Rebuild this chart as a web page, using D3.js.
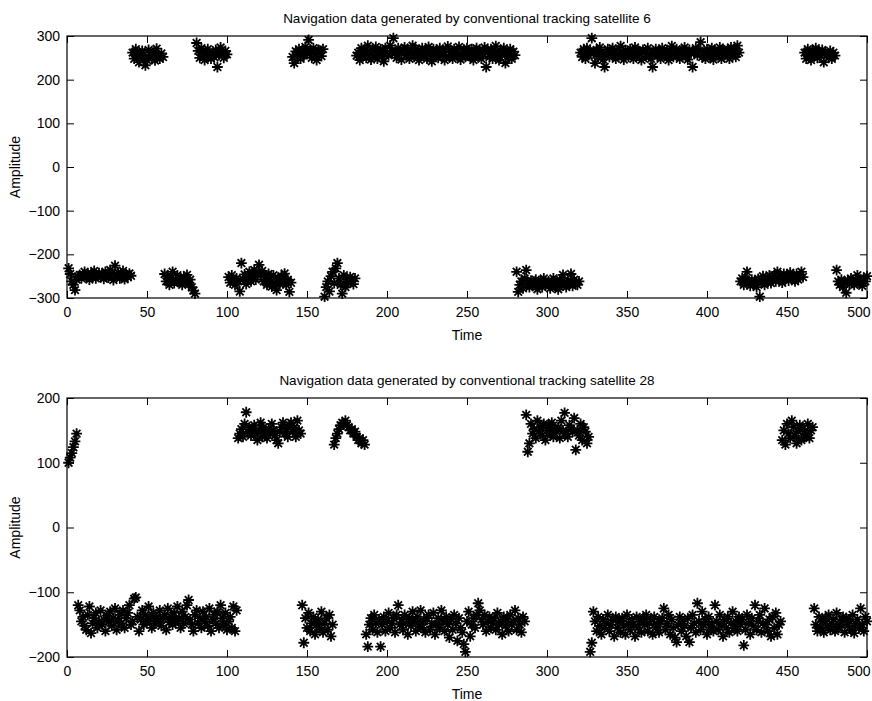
<!DOCTYPE html>
<html><head><meta charset="utf-8">
<script src="https://cdn.jsdelivr.net/npm/d3@7/dist/d3.min.js"></script>
<style>body{margin:0;background:#fff}svg{display:block}text{font-family:"Liberation Sans",Arial,Helvetica,sans-serif;fill:#000}</style>
</head><body><svg id="c" width="872" height="701"></svg>
<script>
const titles = ["Navigation data generated by conventional tracking satellite 6","Navigation data generated by conventional tracking satellite 28"];
const xLabel = "Time", yLabel = "Amplitude";
const xTicks = [0,50,100,150,200,250,300,350,400,450,500];
const yTicksSat6 = [-300,-200,-100,0,100,200,300];
const yTicksSat28 = [-200,-100,0,100,200];

const sat6 = [
-232,-245,-262,-270,-282,-258,-250,-247,-255,-248,
-240,-252,-246,-258,-244,-250,-238,-255,-249,-243,
-251,-245,-256,-240,-248,-253,-236,-244,-259,-226,
-247,-242,-255,-250,-238,-257,-246,-252,-244,-249,
262,248,270,255,240,258,266,251,233,245,
268,257,249,262,244,271,255,248,260,252,
-245,-262,-250,-270,-255,-240,-266,-258,-248,-263,
-256,-270,-252,-261,-247,-268,-258,-275,-283,-290,
284,266,250,272,258,245,263,270,255,248,
261,252,268,229,256,274,262,250,266,258,
-252,-265,-248,-260,-270,-255,-262,-285,-220,-258,
-246,-268,-255,-240,-262,-250,-236,-258,-244,-224,
-248,-238,-262,-252,-270,-245,-258,-274,-248,-266,
-282,-255,-268,-250,-262,-244,-270,-258,-286,-265,
252,238,265,258,270,248,262,255,275,260,
291,266,250,272,258,245,268,262,254,270,
-297,-275,-262,-285,-250,-240,-266,-232,-220,-255,
-270,-290,-248,-275,-258,-266,-252,-260,-268,-255,
255,262,245,272,258,268,250,278,260,246,
268,256,275,248,262,270,254,242,272,260,
256,278,266,295,260,250,272,262,246,268,
274,256,266,248,262,278,252,270,260,245,
262,272,254,266,248,275,260,242,270,256,
268,250,272,262,256,245,268,276,252,262,
248,270,262,254,275,246,260,268,252,272,
262,252,270,245,262,272,254,266,248,258,
274,229,262,252,270,248,262,277,256,245,
266,256,272,238,262,252,270,248,264,256,
-240,-286,-270,-262,-278,-255,-236,-268,-275,-260,
-272,-265,-258,-280,-268,-262,-275,-255,-270,-266,
-262,-278,-268,-255,-272,-264,-280,-258,-270,-247,
-266,-275,-260,-268,-245,-272,-258,-264,-270,-262,
262,252,270,248,272,256,266,295,260,238,
268,252,274,262,246,229,260,270,252,264,
272,256,248,266,262,277,254,246,268,260,
252,270,262,248,274,256,266,260,245,268,
262,252,272,256,248,229,262,270,254,266,
248,272,262,256,268,245,262,277,252,262,
270,256,248,266,262,274,254,246,268,260,
229,262,272,256,266,286,252,262,248,270,
262,252,272,246,266,256,262,274,248,268,
256,262,270,248,274,260,266,252,278,262,
-262,-255,-270,-258,-240,-265,-272,-258,-268,-262,
-275,-256,-297,-265,-250,-270,-258,-262,-248,-266,
-255,-248,-262,-240,-258,-250,-265,-245,-256,-248,
-260,-242,-255,-250,-262,-245,-258,-250,-240,-252,
262,248,270,255,245,266,258,272,250,262,
255,268,240,262,258,250,266,248,262,255,
-236,-262,-270,-258,-275,-265,-288,-260,-268,-255,
-262,-270,-258,-248,-265,-260,-272,-255,-262,-250
];

const sat28 = [
100,108,115,124,133,145,
-120,-128,-145,-138,-152,-158,-135,-122,-163,-148,
-140,-132,-155,-146,-128,-150,-142,-160,-136,-145,
-130,-152,-140,-125,-158,-145,-135,-148,-128,-155,
-140,-132,-120,-150,-145,-110,-108,-138,-160,-142,
-128,-150,-135,-145,-122,-140,-155,-132,-148,-138,
-145,-128,-152,-140,-135,-158,-125,-146,-138,-150,
-132,-145,-122,-140,-155,-130,-148,-138,-120,-112,
-142,-150,-160,-135,-128,-148,-140,-155,-130,-145,
-138,-152,-125,-160,-142,-135,-148,-130,-155,-120,
-140,-150,-132,-158,-145,-138,-155,-122,-160,-128,
138,145,152,140,160,178,148,155,142,150,
158,145,135,150,162,140,155,148,138,152,
145,160,150,142,135,130,148,155,162,145,
152,140,158,162,148,155,140,165,150,145,
-120,-178,-140,-155,-132,-160,-148,-138,-165,-150,
-142,-155,-130,-162,-148,-140,-158,-135,-168,-150,
128,138,145,152,158,162,160,165,158,155,
150,152,145,148,140,135,138,130,135,128,
-165,-184,-150,-140,-158,-135,-148,-162,-142,-184,
-150,-138,-160,-145,-132,-155,-148,-140,-162,-135,
-120,-150,-142,-158,-135,-148,-165,-140,-152,-130,
-145,-160,-138,-150,-128,-155,-145,-162,-140,-135,
-158,-148,-132,-165,-150,-140,-155,-128,-145,-160,
-138,-150,-170,-142,-158,-135,-148,-175,-140,-155,
-162,-180,-192,-145,-130,-168,-150,-140,-155,-135,
-117,-128,-142,-150,-135,-160,-145,-138,-155,-148,
-140,-158,-132,-150,-145,-165,-138,-152,-142,-160,
-135,-150,-145,-128,-158,-140,-150,-162,-138,-145,
174,117,130,160,145,152,138,165,148,155,
142,160,135,150,158,145,162,140,152,148,
155,138,165,150,177,145,140,158,152,148,
169,120,150,142,160,135,155,148,130,140,
-192,-178,-130,-145,-160,-138,-152,-165,-142,-155,
-148,-135,-160,-150,-142,-168,-138,-155,-145,-162,
-140,-152,-165,-135,-148,-158,-142,-150,-168,-138,
-155,-145,-162,-140,-150,-135,-160,-148,-142,-165,
-138,-155,-150,-162,-145,-140,-125,-158,-148,-135,
-165,-142,-155,-170,-177,-150,-138,-160,-145,-152,
-168,-140,-177,-155,-135,-148,-162,-117,-145,-158,
-130,-150,-142,-165,-138,-155,-148,-160,-120,-145,
-158,-135,-150,-168,-142,-155,-138,-162,-148,-130,
-155,-145,-160,-138,-150,-142,-182,-158,-135,-148,
-165,-140,-152,-120,-158,-145,-135,-162,-148,-125,
-150,-160,-142,-168,-138,-155,-132,-165,-150,-145,
135,150,128,160,145,138,165,155,142,130,
148,158,135,152,140,145,160,138,150,155,
-125,-150,-160,-138,-155,-145,-162,-140,-152,-135,
-158,-148,-142,-160,-132,-155,-145,-150,-138,-162,
-140,-152,-145,-158,-135,-163,-148,-142,-155,-125,
-150,-160,-138,-145
];

const svg = d3.select("#c");
svg.append("rect").attr("width",872).attr("height",701).attr("fill","#fff");

const panels = [
  {data: sat6, yDom:[-300,300], yTicks:yTicksSat6, top:36, bottom:298, title:titles[0]},
  {data: sat28, yDom:[-200,200], yTicks:yTicksSat28, top:398, bottom:657, title:titles[1]}
];
const L = 67, R = 867, tickLen = 7, r = 5.4;
const starPath = (function(){
  const d = r*Math.SQRT1_2;
  return `M${-r},0L${r},0M0,${-r}L0,${r}M${-d},${-d}L${d},${d}M${-d},${d}L${d},${-d}`;
})();
const font = '"Liberation Sans",Arial,sans-serif';

panels.forEach(p => {
  const x = d3.scaleLinear().domain([0,500]).range([L,R]);
  const y = d3.scaleLinear().domain(p.yDom).range([p.bottom,p.top]);
  const g = svg.append("g");
  const clipId = "clip"+p.top;
  g.append("clipPath").attr("id",clipId).append("rect")
    .attr("x",L-6).attr("y",p.top-6).attr("width",R-L+12).attr("height",p.bottom-p.top+12);
  g.append("g").attr("clip-path",`url(#${clipId})`).selectAll("path").data(p.data).join("path")
    .attr("transform",(d,i)=>`translate(${x(i+1)},${y(d)})`)
    .attr("d",starPath).attr("stroke","#000").attr("stroke-width",1.8).attr("fill","none");
  const ax = (gen, tr) => g.append("g").attr("transform",tr).call(gen);
  const xb = ax(d3.axisBottom(x).tickValues(xTicks).tickSizeInner(-tickLen).tickSizeOuter(0).tickPadding(9), `translate(0,${p.bottom})`);
  const xt = ax(d3.axisTop(x).tickValues(xTicks).tickSizeInner(-tickLen).tickSizeOuter(0).tickFormat(""), `translate(0,${p.top})`);
  const yl = ax(d3.axisLeft(y).tickValues(p.yTicks).tickSizeInner(-tickLen).tickSizeOuter(0).tickPadding(7), `translate(${L},0)`);
  const yr = ax(d3.axisRight(y).tickValues(p.yTicks).tickSizeInner(-tickLen).tickSizeOuter(0).tickFormat(""), `translate(${R},0)`);
  [xb,xt,yl,yr].forEach(a=>{
    a.select(".domain").remove();
    a.selectAll("line").attr("stroke","#000").attr("stroke-width",1);
    a.selectAll("text").attr("font-size",14).attr("font-family",font).attr("fill","#000");
  });
  // keep the last x label inside the page
  xb.selectAll(".tick text").filter(d=>d===500).attr("text-anchor","end").attr("dx",3);
  g.append("rect").attr("x",L).attr("y",p.top).attr("width",R-L).attr("height",p.bottom-p.top)
    .attr("fill","none").attr("stroke","#000").attr("stroke-width",1.2);
  g.append("text").attr("x",(L+R)/2).attr("y",p.top-13).attr("text-anchor","middle").attr("font-size",13.5).text(p.title);
  g.append("text").attr("x",(L+R)/2).attr("y",p.bottom+42).attr("text-anchor","middle").attr("font-size",14).text(xLabel);
  g.append("text").attr("transform",`translate(20,${(p.top+p.bottom)/2}) rotate(-90)`).attr("text-anchor","middle").attr("font-size",14).text(yLabel);
});
</script></body></html>
